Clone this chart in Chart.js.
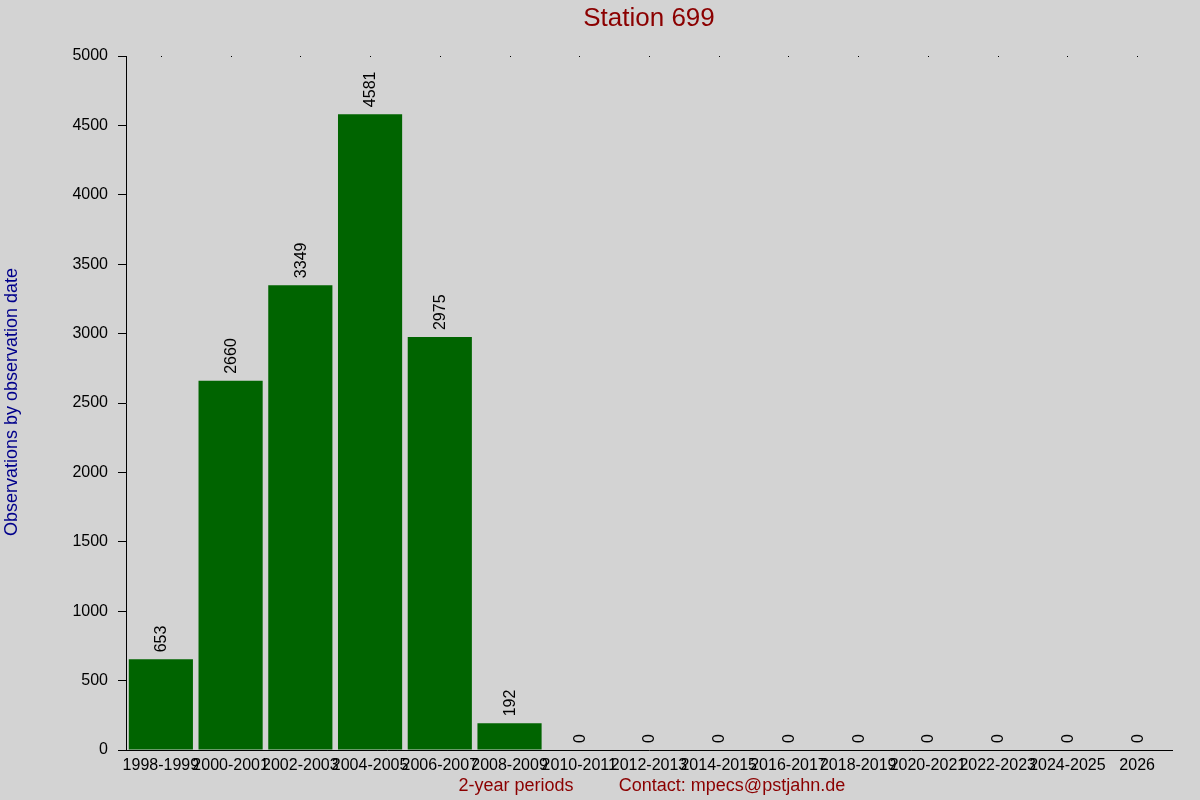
<!DOCTYPE html>
<html>
<head>
<meta charset="utf-8">
<script src="https://cdn.jsdelivr.net/npm/chart.js@4"></script>
<style>
  html, body { margin: 0; padding: 0; background: #d3d3d3; }
  #wrap { width: 1200px; height: 800px; position: relative; }
</style>
</head>
<body>
<div id="wrap"><canvas id="chart" width="1200" height="800"></canvas></div>
<script>
// chart data
const periods = ['1998-1999', '2000-2001', '2002-2003', '2004-2005', '2006-2007', '2008-2009',
    '2010-2011', '2012-2013', '2014-2015', '2016-2017', '2018-2019', '2020-2021',
    '2022-2023', '2024-2025', '2026'];
const observations = [653, 2660, 3349, 4581, 2975, 192, 0, 0, 0, 0, 0, 0, 0, 0, 0];
const yTicks = [0, 500, 1000, 1500, 2000, 2500, 3000, 3500, 4000, 4500, 5000];

const chartTitle = 'Station 699';
const yTitle = 'Observations by observation date';
const xTitle = '2-year periods';
const contact = 'Contact: mpecs@pstjahn.de';

const font = '"Liberation Sans", Arial, sans-serif';

// titles, top dots and value labels
const extras = {
    id: 'extras',
    afterDatasetsDraw(chart) {
        const ctx = chart.ctx;
        const xs = chart.scales.x;
        const area = chart.chartArea;
        ctx.save();

        // small dots along the top edge
        ctx.fillStyle = '#000';
        periods.forEach((p, i) => {
            ctx.fillRect(Math.round(xs.getPixelForValue(i)), area.top, 1, 1);
        });

        // rotated value labels
        const meta = chart.getDatasetMeta(0);
        ctx.font = '16px ' + font;
        ctx.textAlign = 'left';
        ctx.textBaseline = 'middle';
        meta.data.forEach((bar, i) => {
            ctx.save();
            ctx.translate(bar.x + 1, bar.y - 7);
            ctx.rotate(-Math.PI / 2);
            ctx.fillText(String(observations[i]), 0, 0);
            ctx.restore();
        });

        // title
        ctx.fillStyle = '#8b0000';
        ctx.font = '26px ' + font;
        ctx.textAlign = 'center';
        ctx.textBaseline = 'middle';
        ctx.fillText(chartTitle, (area.left + area.right) / 2, 19);

        // bottom texts
        ctx.font = '18px ' + font;
        ctx.fillText(xTitle, 516, 786);
        ctx.fillText(contact, 732, 786);

        // y axis title
        ctx.fillStyle = '#00008b';
        ctx.save();
        ctx.translate(12, 402);
        ctx.rotate(-Math.PI / 2);
        ctx.fillText(yTitle, 0, 0);
        ctx.restore();

        ctx.restore();
    }
};

new Chart(document.getElementById('chart'), {
    type: 'bar',
    data: {
        labels: periods,
        datasets: [{
            data: observations,
            backgroundColor: '#006400',
            borderWidth: 0,
            barPercentage: 0.92,
            categoryPercentage: 1.0
        }]
    },
    options: {
        responsive: false,
        animation: false,
        devicePixelRatio: 1,
        layout: { padding: { top: 56, right: 28, left: 0, bottom: 0 } },
        plugins: {
            legend: { display: false },
            title: { display: false },
            tooltip: { enabled: false }
        },
        scales: {
            x: {
                afterFit(scale) { scale.height = 50; },
                grid: { display: false, drawTicks: false },
                border: { display: true, color: '#000', width: 1 },
                ticks: {
                    autoSkip: false, maxRotation: 0, minRotation: 0,
                    padding: 6, color: '#000',
                    font: { family: font, size: 16 }
                }
            },
            y: {
                min: 0,
                max: 5000,
                afterFit(scale) { scale.width = 126; },
                afterBuildTicks(scale) { scale.ticks = yTicks.map(v => ({ value: v })); },
                grid: { drawOnChartArea: false, tickLength: 8, color: '#000' },
                border: { display: true, color: '#000', width: 1 },
                ticks: {
                    padding: 10, color: '#000',
                    font: { family: font, size: 16 },
                    callback: v => String(v)
                }
            }
        }
    },
    plugins: [extras, {
        id: 'bg',
        beforeDraw(chart) {
            const ctx = chart.ctx;
            ctx.save();
            ctx.fillStyle = '#d3d3d3';
            ctx.fillRect(0, 0, chart.width, chart.height);
            ctx.restore();
        }
    }]
});
</script>
</body>
</html>
